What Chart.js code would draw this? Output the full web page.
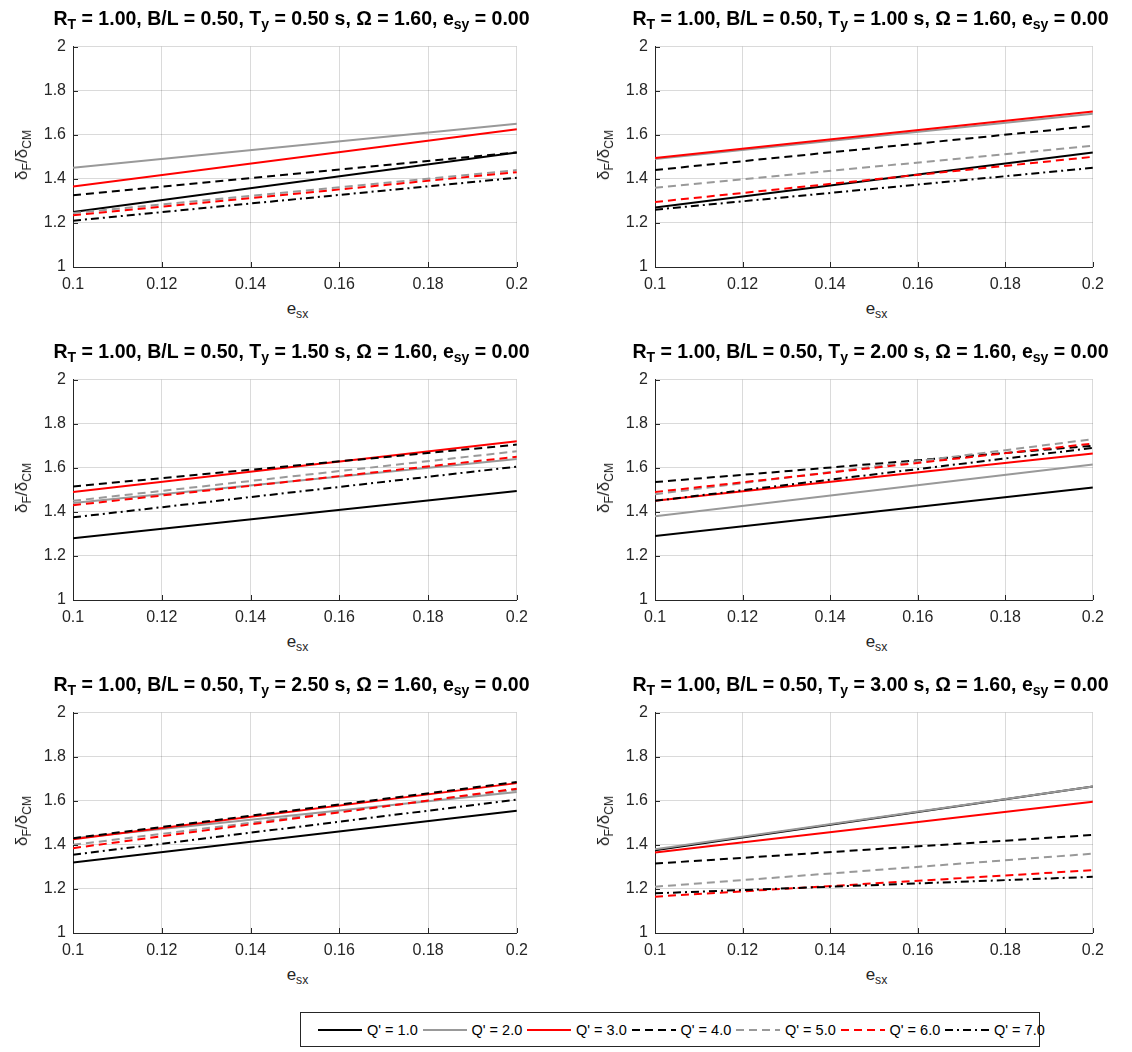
<!DOCTYPE html>
<html>
<head>
<meta charset="utf-8">
<script src="https://cdn.jsdelivr.net/npm/chart.js@4.4.1/dist/chart.umd.min.js"></script>
<style>
  html, body { margin:0; padding:0; background:#fff; }
  #root { position:relative; width:1132px; height:1052px; font-family:"Liberation Sans", Arial, sans-serif; color:#000; }
  .cv { position:absolute; }
  .title { position:absolute; transform:translate(-50%,-50%); white-space:nowrap; font-weight:bold; font-size:19.5px; color:#000; }
  .title sub, .xlab sub, .ylab sub { font-size:0.72em; vertical-align:-0.35em; line-height:0; }
  .xlab { position:absolute; transform:translate(-50%,-50%); font-size:17px; color:#262626; white-space:nowrap; }
  .ylab { position:absolute; transform:translate(-50%,-50%) rotate(-90deg); font-size:17px; color:#262626; white-space:nowrap; }
  #legend { position:absolute; left:300px; top:1012px; width:740px; height:35px; border:1px solid #262626; box-sizing:border-box; background:#fff; }
  .lg { position:absolute; top:0; height:33px; display:flex; align-items:center; font-size:14.5px; color:#000; white-space:nowrap; }
  .lg svg { margin-right:5px; }
</style>
</head>
<body>
<div id="root">
  <div id="legend"></div>
</div>
<script>
// ---- data ----
const esx = [0.1, 0.2];
const yTicks = [1, 1.2, 1.4, 1.6, 1.8, 2];
const xTicks = [0.1, 0.12, 0.14, 0.16, 0.18, 0.2];
const tyLabels = ['0.50', '1.00', '1.50', '2.00', '2.50', '3.00'];
const qLabels = ["Q' = 1.0", "Q' = 2.0", "Q' = 3.0", "Q' = 4.0", "Q' = 5.0", "Q' = 6.0", "Q' = 7.0"];
// each row: [value at esx=0.1, value at esx=0.2] for Q'=1..7
const ty050 = [[1.25,1.52],[1.45,1.65],[1.365,1.625],[1.325,1.52],[1.245,1.44],[1.235,1.43],[1.21,1.405]];
const ty100 = [[1.27,1.52],[1.49,1.695],[1.495,1.705],[1.44,1.64],[1.36,1.55],[1.295,1.50],[1.26,1.45]];
const ty150 = [[1.28,1.495],[1.44,1.64],[1.49,1.72],[1.515,1.705],[1.45,1.675],[1.43,1.65],[1.375,1.605]];
const ty200 = [[1.29,1.51],[1.38,1.615],[1.45,1.665],[1.535,1.70],[1.48,1.73],[1.49,1.71],[1.45,1.69]];
const ty250 = [[1.32,1.555],[1.43,1.64],[1.425,1.68],[1.43,1.685],[1.40,1.65],[1.385,1.655],[1.355,1.605]];
const ty300 = [[1.375,1.665],[1.38,1.665],[1.365,1.595],[1.315,1.445],[1.21,1.36],[1.165,1.285],[1.18,1.255]];
const panels = [ty050, ty100, ty150, ty200, ty250, ty300];

// ---- styles ----
const qColors = ['#000000', '#999999', '#ff0000', '#000000', '#999999', '#ff0000', '#000000'];
const qDash = [[], [], [], [8,5], [8,5], [8,5], [8,4,2,4]];

const root = document.getElementById('root');
const plotLeft = [73, 655];
const plotRight = [522, 1098];
const plotTop = [42, 375, 708];
const plotH = 225;
const YW = 40, XH = 30, PADT = 12, PADR = 14;

const inwardTicks = {
  id: 'inwardTicks',
  afterDatasetsDraw(chart) {
    const ctx = chart.ctx, a = chart.chartArea;
    const xs = chart.scales.x, ys = chart.scales.y;
    ctx.save();
    ctx.strokeStyle = '#262626';
    ctx.lineWidth = 1;
    ctx.beginPath();
    ys.ticks.forEach(t => { const p = Math.round(ys.getPixelForValue(t.value)) + 0.5; ctx.moveTo(a.left, p); ctx.lineTo(a.left + 5, p); });
    xs.ticks.forEach(t => { const p = Math.round(xs.getPixelForValue(t.value)) + 0.5; ctx.moveTo(p, a.bottom); ctx.lineTo(p, a.bottom - 5); });
    ctx.stroke();
    ctx.restore();
  }
};

panels.forEach((vals, i) => {
  const col = i % 2, row = Math.floor(i / 2);
  const L = plotLeft[col], R = plotRight[col], T = plotTop[row];
  const W = YW + (R - L) + PADR, H = PADT + plotH + XH;
  const cv = document.createElement('canvas');
  cv.className = 'cv';
  cv.width = W; cv.height = H;
  cv.style.left = (L - YW) + 'px';
  cv.style.top = (T - PADT) + 'px';
  cv.style.width = W + 'px'; cv.style.height = H + 'px';
  root.appendChild(cv);

  const datasets = vals.map((v, k) => ({
    label: qLabels[k],
    data: esx.map((x, j) => ({ x: x, y: v[j] })),
    borderColor: qColors[k],
    borderDash: qDash[k],
    borderWidth: 2,
    pointRadius: 0,
    fill: false,
    tension: 0,
    order: 7 - k
  }));

  new Chart(cv, {
    type: 'line',
    data: { datasets },
    options: {
      responsive: false,
      animation: false,
      devicePixelRatio: 1,
      layout: { padding: { top: PADT, right: PADR, left: 0, bottom: 0 } },
      plugins: { legend: { display: false }, title: { display: false }, tooltip: { enabled: false } },
      scales: {
        x: {
          type: 'linear', min: 0.1, max: 0.2,
          afterFit: s => { s.height = XH; },
          afterBuildTicks: s => { s.ticks = xTicks.map(v => ({ value: v })); },
          ticks: { callback: v => String(Number(v.toFixed(2))), font: { family: 'Liberation Sans', size: 16 }, color: '#262626', padding: 8, maxRotation: 0, autoSkip: false },
          grid: { color: 'rgba(38,38,38,0.17)', drawTicks: false, lineWidth: 1 },
          border: { color: '#262626', width: 1 }
        },
        y: {
          type: 'linear', min: 1, max: 2,
          afterFit: s => { s.width = YW; },
          afterBuildTicks: s => { s.ticks = yTicks.map(v => ({ value: v })); },
          ticks: { callback: v => String(Number(v.toFixed(1))), font: { family: 'Liberation Sans', size: 16 }, color: '#262626', padding: 7, autoSkip: false },
          grid: { color: 'rgba(38,38,38,0.17)', drawTicks: false, lineWidth: 1 },
          border: { color: '#262626', width: 1 }
        }
      }
    },
    plugins: [inwardTicks]
  });

  const cx = (L + R) / 2;
  const t = document.createElement('div');
  t.className = 'title';
  t.style.left = (cx - 6) + 'px';
  t.style.top = (T - 24) + 'px';
  t.innerHTML = 'R<sub>T</sub> = 1.00, B/L = 0.50, T<sub>y</sub> = ' + tyLabels[i] + ' s, &Omega; = 1.60, e<sub>sy</sub> = 0.00';
  root.appendChild(t);

  const xl = document.createElement('div');
  xl.className = 'xlab';
  xl.style.left = cx + 'px';
  xl.style.top = (T + plotH + 42) + 'px';
  xl.innerHTML = 'e<sub>sx</sub>';
  root.appendChild(xl);

  const yl = document.createElement('div');
  yl.className = 'ylab';
  yl.style.left = (L - 51) + 'px';
  yl.style.top = (T + plotH / 2) + 'px';
  yl.innerHTML = '&delta;<sub>F</sub>/&delta;<sub>CM</sub>';
  root.appendChild(yl);
});

// legend
const lg = document.getElementById('legend');
qLabels.forEach((lab, k) => {
  const d = document.createElement('div');
  d.className = 'lg';
  d.style.left = (17 + k * 104.5) + 'px';
  const dash = qDash[k].length ? ' stroke-dasharray="' + qDash[k].join(' ') + '"' : '';
  d.innerHTML = '<svg width="44" height="6"><line x1="0" y1="3" x2="44" y2="3" stroke="' + qColors[k] + '" stroke-width="2"' + dash + '/></svg>' + lab;
  lg.appendChild(d);
});
</script>
</body>
</html>
